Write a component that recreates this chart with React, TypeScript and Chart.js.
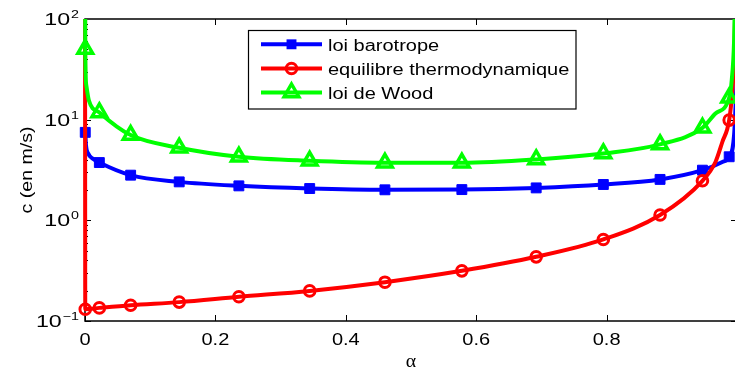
import React, { useEffect, useRef } from 'react';
import { Chart, registerables } from 'chart.js';

Chart.register(...registerables);

// ---- data ----
const ALPHA_MARK = [0.0004, 0.022, 0.07, 0.1445, 0.236, 0.3446, 0.46, 0.578, 0.692, 0.795, 0.882, 0.947, 0.988];
const BARO_MARK = [7.48, 3.75, 2.81, 2.41, 2.2, 2.07, 2.01, 2.02, 2.1, 2.27, 2.55, 3.15, 4.28];
const THERMO_MARK = [0.131, 0.135, 0.1435, 0.154, 0.174, 0.199, 0.243, 0.315, 0.434, 0.646, 1.13, 2.47, 9.9];
const WOOD_MARK = [50.3, 11.8, 7.03, 5.26, 4.28, 3.9, 3.73, 3.73, 4.03, 4.62, 5.68, 8.3, 16.5];

// extra points of the continuous curves (no marker)
const BARO_LINE_ALPHA = [0.0015, 0.005, 0.012, 0.9775, 0.9955, 1];
const BARO_LINE = [5.6, 4.6, 4.1, 3.8, 7.0, 30];
const THERMO_LINE_ALPHA = [0, 0.967, 0.9775, 0.993, 0.996, 1];
const THERMO_LINE = [1500, 3.8, 6.0, 20, 45, 1500];
const WOOD_LINE_ALPHA = [0, 0.002, 0.006, 0.967, 0.992, 0.9955, 1];
const WOOD_LINE = [1500, 22, 15.5, 11.5, 25, 60, 1500];

const X_TICKS = [0, 0.2, 0.4, 0.6, 0.8, 1];
const X_TICK_LABELS = ['0', '0.2', '0.4', '0.6', '0.8', ''];
const Y_TICKS = [0.1, 1, 10, 100];
const Y_TICK_EXP = ['\u22121', '0', '1', '2'];
const SERIES_NAMES = ['loi barotrope', 'equilibre thermodynamique', 'loi de Wood'];
const SERIES_COLORS = ['#0000ff', '#ff0000', '#00ff00'];
const X_TITLE = '\u03b1';
const Y_TITLE = 'c (en m/s)';

type P = { x: number; y: number; m: boolean };
function build(mx: number[], my: number[], lx: number[], ly: number[]): P[] {
  const pts: P[] = [];
  lx.forEach((x, i) => pts.push({ x, y: ly[i], m: false }));
  mx.forEach((x, i) => pts.push({ x, y: my[i], m: true }));
  pts.sort((a, b) => a.x - b.x);
  return pts;
}

const FONT = '"Liberation Sans", Arial, sans-serif';
const SX = 1.25;
const LW = 4;
const SQ_R = 7;
const CIRC_R = 5.3;
const CIRC_W = 3;
const TRI_R = 8.5;
const TRI_W = 3.5;

function sText(ctx: CanvasRenderingContext2D, text: string, x: number, y: number, align: CanvasTextAlign, font: string, sx = SX) {
  ctx.save();
  ctx.font = font;
  ctx.translate(x, y);
  ctx.scale(sx, 1);
  ctx.textAlign = align;
  ctx.textBaseline = 'alphabetic';
  ctx.fillStyle = '#000';
  ctx.fillText(text, 0, 0);
  ctx.restore();
}

function marker(ctx: CanvasRenderingContext2D, style: string, x: number, y: number, color: string) {
  ctx.save();
  ctx.strokeStyle = color;
  ctx.fillStyle = color;
  if (style === 'rect') {
    const s = Math.SQRT1_2 * SQ_R;
    ctx.fillRect(x - s, y - s, 2 * s, 2 * s);
  } else if (style === 'circle') {
    ctx.lineWidth = CIRC_W;
    ctx.beginPath();
    ctx.arc(x, y, CIRC_R, 0, Math.PI * 2);
    ctx.stroke();
  } else {
    const r = TRI_R;
    ctx.lineWidth = TRI_W;
    ctx.beginPath();
    ctx.moveTo(x, y - r);
    ctx.lineTo(x + 0.866 * r, y + 0.5 * r);
    ctx.lineTo(x - 0.866 * r, y + 0.5 * r);
    ctx.closePath();
    ctx.stroke();
  }
  ctx.restore();
}

const axesPlugin = {
  id: 'matlabAxes',
  beforeDatasetsDraw(chart: any) {
    const { ctx, chartArea: a, scales } = chart;
    const xs = scales.x, ys = scales.y;
    ctx.save();
    ctx.strokeStyle = '#000';
    ctx.lineWidth = 1.5;
    ctx.strokeRect(a.left, a.top, a.right - a.left, a.bottom - a.top);
    ctx.lineWidth = 1;
    ctx.beginPath();
    X_TICKS.forEach((t) => {
      const px = Math.round(xs.getPixelForValue(t)) + 0.5;
      ctx.moveTo(px, a.bottom); ctx.lineTo(px, a.bottom - 6);
      ctx.moveTo(px, a.top); ctx.lineTo(px, a.top + 6);
    });
    for (let d = -1; d <= 1; d++) {
      for (let k = 1; k <= 9; k++) {
        const v = k * Math.pow(10, d);
        const py = Math.round(ys.getPixelForValue(v)) + 0.5;
        const len = k === 1 ? 6 : 3;
        ctx.moveTo(a.left, py); ctx.lineTo(a.left + len, py);
        ctx.moveTo(a.right, py); ctx.lineTo(a.right - (k === 1 ? 6 : 2), py);
      }
    }
    ctx.stroke();
    ctx.restore();

    // x tick labels
    X_TICKS.forEach((t, i) => {
      if (!X_TICK_LABELS[i]) return;
      sText(ctx, X_TICK_LABELS[i], xs.getPixelForValue(t), 345, 'center', `16px ${FONT}`);
    });
    // y tick labels 10^n
    Y_TICKS.forEach((t, i) => {
      const py = ys.getPixelForValue(t);
      const baseFont = `16px ${FONT}`;
      const expFont = `11px ${FONT}`;
      ctx.save();
      ctx.font = expFont;
      const wExp = ctx.measureText(Y_TICK_EXP[i]).width * 1.3;
      ctx.restore();
      const right = 79;
      sText(ctx, Y_TICK_EXP[i], right - wExp, py - 1, 'left', expFont, 1.3);
      sText(ctx, '10', right - wExp - 1, py + 6, 'right', baseFont, 1.45);
    });
    // axis titles
    sText(ctx, X_TITLE, (a.left + a.right) / 2, 367, 'center', `18px "Liberation Serif", serif`, 1.1);
    ctx.save();
    ctx.translate(31.5, (a.top + a.bottom) / 2);
    ctx.rotate(-Math.PI / 2);
    sText(ctx, Y_TITLE, 0, 0, 'center', `17px ${FONT}`, 1.15);
    ctx.restore();
  },
  afterDatasetsDraw(chart: any) {
    const { ctx } = chart;
    ctx.save();
    ctx.fillStyle = '#fff';
    ctx.fillRect(248.5, 30.5, 327.5, 78.5);
    ctx.strokeStyle = '#000';
    ctx.lineWidth = 1.2;
    ctx.strokeRect(248.5, 30.5, 327.5, 78.5);
    const rows = [44.3, 68.5, 92.5];
    const styles = ['rect', 'circle', 'triangle'];
    rows.forEach((ry, i) => {
      ctx.strokeStyle = SERIES_COLORS[i];
      ctx.lineWidth = LW;
      ctx.beginPath();
      ctx.moveTo(261, ry);
      ctx.lineTo(322, ry);
      ctx.stroke();
      marker(ctx, styles[i], 291.5, ry, SERIES_COLORS[i]);
      sText(ctx, SERIES_NAMES[i], 328, ry + 6.8, 'left', `16px ${FONT}`);
    });
    ctx.restore();
  },
};

const CLIP = { left: 14, top: 0, right: 14, bottom: 14 };

export default function App() {
  const ref = useRef<HTMLCanvasElement | null>(null);
  useEffect(() => {
    if (!ref.current) return;
    const mk = (c: any) => (c.raw && c.raw.m ? 1 : 0);
    const chart = new Chart(ref.current, {
      type: 'line',
      data: {
        datasets: [
          {
            label: SERIES_NAMES[2],
            data: build(ALPHA_MARK, WOOD_MARK, WOOD_LINE_ALPHA, WOOD_LINE) as any,
            borderColor: SERIES_COLORS[2],
            borderWidth: LW,
            pointStyle: 'triangle',
            pointRadius: (c: any) => mk(c) * TRI_R,
            pointBackgroundColor: 'rgba(0,0,0,0)',
            pointBorderColor: SERIES_COLORS[2],
            pointBorderWidth: TRI_W,
            cubicInterpolationMode: 'monotone',
            fill: false,
            clip: CLIP as any,
          },
          {
            label: SERIES_NAMES[1],
            data: build(ALPHA_MARK, THERMO_MARK, THERMO_LINE_ALPHA, THERMO_LINE) as any,
            borderColor: SERIES_COLORS[1],
            borderWidth: LW,
            pointStyle: 'circle',
            pointRadius: (c: any) => mk(c) * CIRC_R,
            pointBackgroundColor: 'rgba(0,0,0,0)',
            pointBorderColor: SERIES_COLORS[1],
            pointBorderWidth: CIRC_W,
            cubicInterpolationMode: 'monotone',
            fill: false,
            clip: CLIP as any,
          },
          {
            label: SERIES_NAMES[0],
            data: build(ALPHA_MARK, BARO_MARK, BARO_LINE_ALPHA, BARO_LINE) as any,
            borderColor: SERIES_COLORS[0],
            borderWidth: LW,
            pointStyle: 'rect',
            pointRadius: (c: any) => mk(c) * SQ_R,
            pointBackgroundColor: SERIES_COLORS[0],
            pointBorderColor: SERIES_COLORS[0],
            pointBorderWidth: 1,
            cubicInterpolationMode: 'monotone',
            fill: false,
            clip: CLIP as any,
          },
        ],
      },
      options: {
        animation: false,
        responsive: false,
        devicePixelRatio: 1,
        events: [],
        layout: { padding: { left: 85, right: 7, top: 19, bottom: 50 } },
        scales: {
          x: { type: 'linear', min: 0, max: 1, display: false },
          y: { type: 'logarithmic', min: 0.1, max: 100, display: false },
        },
        plugins: { legend: { display: false }, tooltip: { enabled: false } },
      },
      plugins: [axesPlugin],
    });
    return () => chart.destroy();
  }, []);
  return (
    <div style={{ position: 'fixed', left: 0, top: 0, width: 735, height: 371, overflow: 'hidden', background: '#fff' }}>
      <canvas ref={ref} width={745} height={371} style={{ display: 'block', width: 745, height: 371 }} />
    </div>
  );
}
